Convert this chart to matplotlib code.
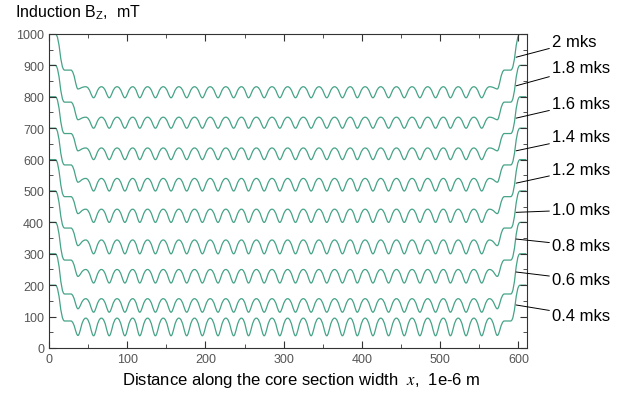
import matplotlib
matplotlib.use("Agg")
import matplotlib.pyplot as plt
from matplotlib.path import Path
from matplotlib.patches import PathPatch
from matplotlib.ticker import MultipleLocator

plt.rcParams["font.family"] = ["Liberation Sans", "DejaVu Sans"]
plt.rcParams["mathtext.fontset"] = "stix"

# curve labels (time) and levels, mT
labels = ["2 mks", "1.8 mks", "1.6 mks", "1.4 mks", "1.2 mks",
          "1.0 mks", "0.8 mks", "0.6 mks", "0.4 mks"]
edge_mT = [1000, 900, 800, 700, 600, 500, 400, 300, 200]
shoulder_mT = [885, 783, 683, 583, 482, 382, 280, 172, 86]
first_trough_mT = [825, 727, 628, 528, 428, 326, 228, 125, 40]
trough_mT = [797, 700, 600, 500, 400, 300, 207, 114, 39]
peak_mT = [832, 735, 637, 540, 442, 344, 250, 157, 95]

# x positions (1e-6 m) of the profile features
left_x = [0, 8, 20, 28]
right_x = [582, 590, 602, 610]
trough_x = [37, 57, 77, 97, 116, 136, 156, 176, 196, 216, 236, 255, 275, 295,
            315, 335, 355, 375, 394, 414, 434, 454, 474, 494, 513, 533, 553, 573]
peak_x = [47, 67, 87, 107, 126, 146, 166, 186, 206, 226, 246, 265, 285, 305,
          325, 345, 365, 385, 404, 424, 444, 464, 484, 504, 523, 543, 563]

# label placement: point on the curve and text position (data units)
pointer_x = 597
pointer_mT = [926, 835, 732, 628, 525, 432, 347, 242, 137]
text_x = 643
text_mT = [975, 892, 780, 672, 570, 440, 325, 217, 103]

color = "#45a388"


def profile(i):
    xs, ys, kind = list(left_x), [edge_mT[i], edge_mT[i], shoulder_mT[i], shoulder_mT[i]], ["f"] * 4
    n = len(trough_x)
    for k in range(n):
        xs.append(trough_x[k])
        ys.append(first_trough_mT[i] if k in (0, n - 1) else trough_mT[i])
        kind.append("t")
        if k < len(peak_x):
            xs.append(peak_x[k])
            ys.append(peak_mT[i])
            kind.append("p")
    xs += right_x
    ys += [shoulder_mT[i], shoulder_mT[i], edge_mT[i], edge_mT[i]]
    kind += ["f"] * 4
    return xs, ys, kind


def smooth_path(xs, ys, kind):
    r = {"f": 0.5, "p": 0.55, "t": 0.3}
    verts = [(xs[0], ys[0])]
    codes = [Path.MOVETO]
    for j in range(len(xs) - 1):
        dx = xs[j + 1] - xs[j]
        verts += [(xs[j] + r[kind[j]] * dx, ys[j]),
                  (xs[j + 1] - r[kind[j + 1]] * dx, ys[j + 1]),
                  (xs[j + 1], ys[j + 1])]
        codes += [Path.CURVE4] * 3
    return Path(verts, codes)


fig = plt.figure(figsize=(6.42, 4.06), dpi=100)
ax = fig.add_axes([0.0763, 0.1404, 0.7447, 0.7734])

for i in range(len(edge_mT)):
    xs, ys, kind = profile(i)
    ax.add_patch(PathPatch(smooth_path(xs, ys, kind), fill=False,
                           edgecolor=color, lw=0.9))
    ax.annotate(labels[i], xy=(pointer_x, pointer_mT[i]),
                xytext=(text_x, text_mT[i]), textcoords="data",
                fontsize=12, va="center", ha="left", annotation_clip=False,
                arrowprops=dict(arrowstyle="-", color="black", lw=0.7,
                                shrinkA=0, shrinkB=0))

ax.set_xlim(0, 611)
ax.set_ylim(0, 1000)
ax.xaxis.set_major_locator(MultipleLocator(100))
ax.xaxis.set_minor_locator(MultipleLocator(50))
ax.yaxis.set_major_locator(MultipleLocator(100))
ax.yaxis.set_minor_locator(MultipleLocator(50))
ax.tick_params(which="both", direction="in", top=True, right=True,
               colors="#333333", labelcolor="#555555", labelsize=9)
ax.tick_params(which="major", length=5)
ax.tick_params(which="minor", length=3)
for s in ax.spines.values():
    s.set_color("#333333")

fig.text(0.023, 0.968, r"Induction B$_\mathregular{Z}$,  mT", fontsize=11.5,
         va="center", ha="left")
fig.text(0.47, 0.064, r"Distance along the core section width  $x$,  1e-6 m",
         fontsize=12, va="center", ha="center")

fig.savefig("out.png", dpi=100)
